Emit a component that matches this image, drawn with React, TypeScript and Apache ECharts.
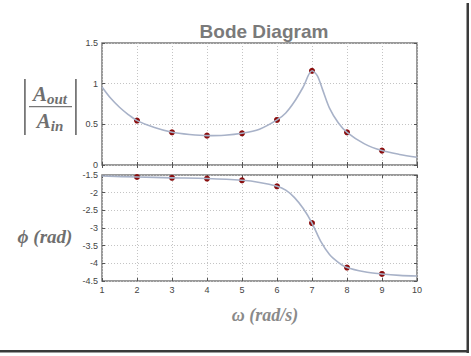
import React, { useEffect, useRef } from "react";
import * as echarts from "echarts";

// Measured sample points
const pointW = [2, 3, 4, 5, 6, 7, 8, 9];
const pointMag = [0.546, 0.402, 0.361, 0.39, 0.554, 1.158, 0.402, 0.177];
const pointPhase = [-1.556, -1.58, -1.6, -1.65, -1.82, -2.86, -4.12, -4.3];

// Continuous response curve
const curveWMag = [1, 1.25, 1.5, 1.75, 2, 2.5, 3, 3.5, 4, 4.5, 5, 5.5, 6, 6.25, 6.5, 6.75, 7, 7.15, 7.3, 7.5, 7.75, 8, 8.5, 9, 9.5, 10];
const curveMag = [0.96, 0.82, 0.71, 0.62, 0.546, 0.46, 0.402, 0.375, 0.361, 0.366, 0.39, 0.44, 0.554, 0.64, 0.78, 0.96, 1.158, 1.1, 0.93, 0.7, 0.52, 0.402, 0.26, 0.177, 0.13, 0.095];
const curveWPhase = [1, 2, 3, 4, 5, 5.5, 6, 6.25, 6.5, 6.75, 7, 7.25, 7.5, 7.75, 8, 8.5, 9, 9.5, 10];
const curvePhase = [-1.53, -1.556, -1.58, -1.6, -1.65, -1.71, -1.82, -1.93, -2.14, -2.45, -2.86, -3.38, -3.75, -3.97, -4.12, -4.24, -4.3, -4.34, -4.36];

const xTicks = { min: 1, max: 10, interval: 1 };
const magAxis = { min: 0, max: 1.5, interval: 0.5 };
const phaseAxis = { min: -4.5, max: -1.5, interval: 0.5 };

const lineColor = "#a8b2c8";
const markColor = "#8a0d0d";
const frameColor = "#7a7a7a";
const gridColor = "#c4c4c4";
const labelColor = "#444";

export default function App() {
  const ref = useRef<HTMLDivElement>(null);
  useEffect(() => {
    if (!ref.current) return;
    const chart = echarts.init(ref.current, null, { renderer: "svg" });
    const grids = [
      { left: 102, right: 54, top: 43, height: 122 },
      { left: 102, right: 54, top: 175, height: 106 },
    ];
    const mainX = (gi: number, labels: boolean) => ({
      type: "value",
      gridIndex: gi,
      ...xTicks,
      position: "bottom",
      axisLine: { show: false },
      axisTick: { show: true, inside: true, length: 3, lineStyle: { color: "#555" } },
      axisLabel: { show: labels, fontSize: 9, color: labelColor, margin: 4, fontFamily: "Liberation Sans" },
      splitLine: { show: true, lineStyle: { color: gridColor, type: [1, 2], width: 1 } },
    });
    const mirrorX = (gi: number) => ({
      type: "value",
      gridIndex: gi,
      ...xTicks,
      position: "top",
      axisLine: { show: false },
      axisTick: { show: true, inside: true, length: 3, lineStyle: { color: "#555" } },
      axisLabel: { show: false },
      splitLine: { show: false },
    });
    const mainY = (gi: number, r: any) => ({
      type: "value",
      gridIndex: gi,
      ...r,
      position: "left",
      axisLine: { show: false },
      axisTick: { show: true, inside: true, length: 3, lineStyle: { color: "#555" } },
      axisLabel: { show: true, fontSize: 9, color: labelColor, margin: 4, fontFamily: "Liberation Sans" },
      splitLine: { show: true, lineStyle: { color: gridColor, type: [1, 2], width: 1 } },
    });
    const mirrorY = (gi: number, r: any) => ({
      type: "value",
      gridIndex: gi,
      ...r,
      position: "right",
      axisLine: { show: false },
      axisTick: { show: true, inside: true, length: 3, lineStyle: { color: "#555" } },
      axisLabel: { show: false },
      splitLine: { show: false },
    });
    const serif = "Liberation Serif";
    chart.setOption({
      animation: false,
      backgroundColor: "#fff",
      title: {
        text: "Bode Diagram",
        left: 259,
        top: 17,
        textAlign: "center",
        textStyle: { fontSize: 19, fontWeight: "bold", color: "#7a7a7a", fontFamily: "Liberation Sans" },
      },
      grid: grids.map((g) => ({ ...g, show: true, borderColor: frameColor, borderWidth: 1.5, backgroundColor: "#fff" })),
      xAxis: [mainX(0, false), mainX(1, true), mirrorX(0), mirrorX(1)],
      yAxis: [mainY(0, magAxis), mainY(1, phaseAxis), mirrorY(0, magAxis), mirrorY(1, phaseAxis)],
      series: [
        {
          type: "line",
          xAxisIndex: 0,
          yAxisIndex: 0,
          data: curveWMag.map((w, i) => [w, curveMag[i]]),
          smooth: 0.3,
          showSymbol: false,
          lineStyle: { color: lineColor, width: 1.6 },
        },
        {
          type: "scatter",
          xAxisIndex: 0,
          yAxisIndex: 0,
          data: pointW.map((w, i) => [w, pointMag[i]]),
          symbol: "circle",
          symbolSize: 6,
          itemStyle: { color: markColor, opacity: 1 },
        },
        {
          type: "line",
          xAxisIndex: 1,
          yAxisIndex: 1,
          data: curveWPhase.map((w, i) => [w, curvePhase[i]]),
          smooth: 0.3,
          showSymbol: false,
          lineStyle: { color: lineColor, width: 1.6 },
        },
        {
          type: "scatter",
          xAxisIndex: 1,
          yAxisIndex: 1,
          data: pointW.map((w, i) => [w, pointPhase[i]]),
          symbol: "circle",
          symbolSize: 6,
          itemStyle: { color: markColor, opacity: 1 },
        },
      ],
      graphic: [
        // magnitude label |A_out / A_in|
        { type: "rect", shape: { x: 24, y: 79, width: 1.8, height: 56 }, style: { fill: "#777" } },
        { type: "rect", shape: { x: 75, y: 79, width: 1.8, height: 56 }, style: { fill: "#777" } },
        { type: "rect", shape: { x: 29, y: 106, width: 43, height: 1.3 }, style: { fill: "#777" } },
        {
          type: "text",
          x: 50,
          y: 94,
          style: {
            text: "{a|A}{s|out}",
            align: "center",
            verticalAlign: "middle",
            rich: {
              a: { fontSize: 21, fontStyle: "italic", fontFamily: serif, fill: "#6f6f6f", fontWeight: "bold" },
              s: { fontSize: 15, fontStyle: "italic", fontFamily: serif, fill: "#6f6f6f", fontWeight: "bold", padding: [10, 0, 0, 0] },
            },
          },
        },
        {
          type: "text",
          x: 50,
          y: 121,
          style: {
            text: "{a|A}{s|in}",
            align: "center",
            verticalAlign: "middle",
            rich: {
              a: { fontSize: 21, fontStyle: "italic", fontFamily: serif, fill: "#6f6f6f", fontWeight: "bold" },
              s: { fontSize: 15, fontStyle: "italic", fontFamily: serif, fill: "#6f6f6f", fontWeight: "bold", padding: [10, 0, 0, 0] },
            },
          },
        },
        {
          type: "text",
          x: 45,
          y: 236,
          style: {
            text: "ϕ (rad)",
            align: "center",
            verticalAlign: "middle",
            fontSize: 19,
            fontStyle: "italic",
            fontWeight: "bold",
            fontFamily: serif,
            fill: "#6f6f6f",
          },
        },
        {
          type: "text",
          x: 265,
          y: 315,
          style: {
            text: "ω (rad/s)",
            align: "center",
            verticalAlign: "middle",
            fontSize: 18,
            fontStyle: "italic",
            fontWeight: "bold",
            fontFamily: serif,
            fill: "#8a8a8a",
          },
        },
        // frame shadow
        { type: "rect", shape: { x: 466.5, y: 3, width: 2.5, height: 350 }, style: { fill: "#3a3a3a" } },
        { type: "rect", shape: { x: 0, y: 350, width: 469, height: 2.5 }, style: { fill: "#3a3a3a" } },
      ],
    });
    return () => chart.dispose();
  }, []);
  return <div ref={ref} style={{ position: "fixed", left: 0, top: 0, width: 471, height: 356 }} />;
}
